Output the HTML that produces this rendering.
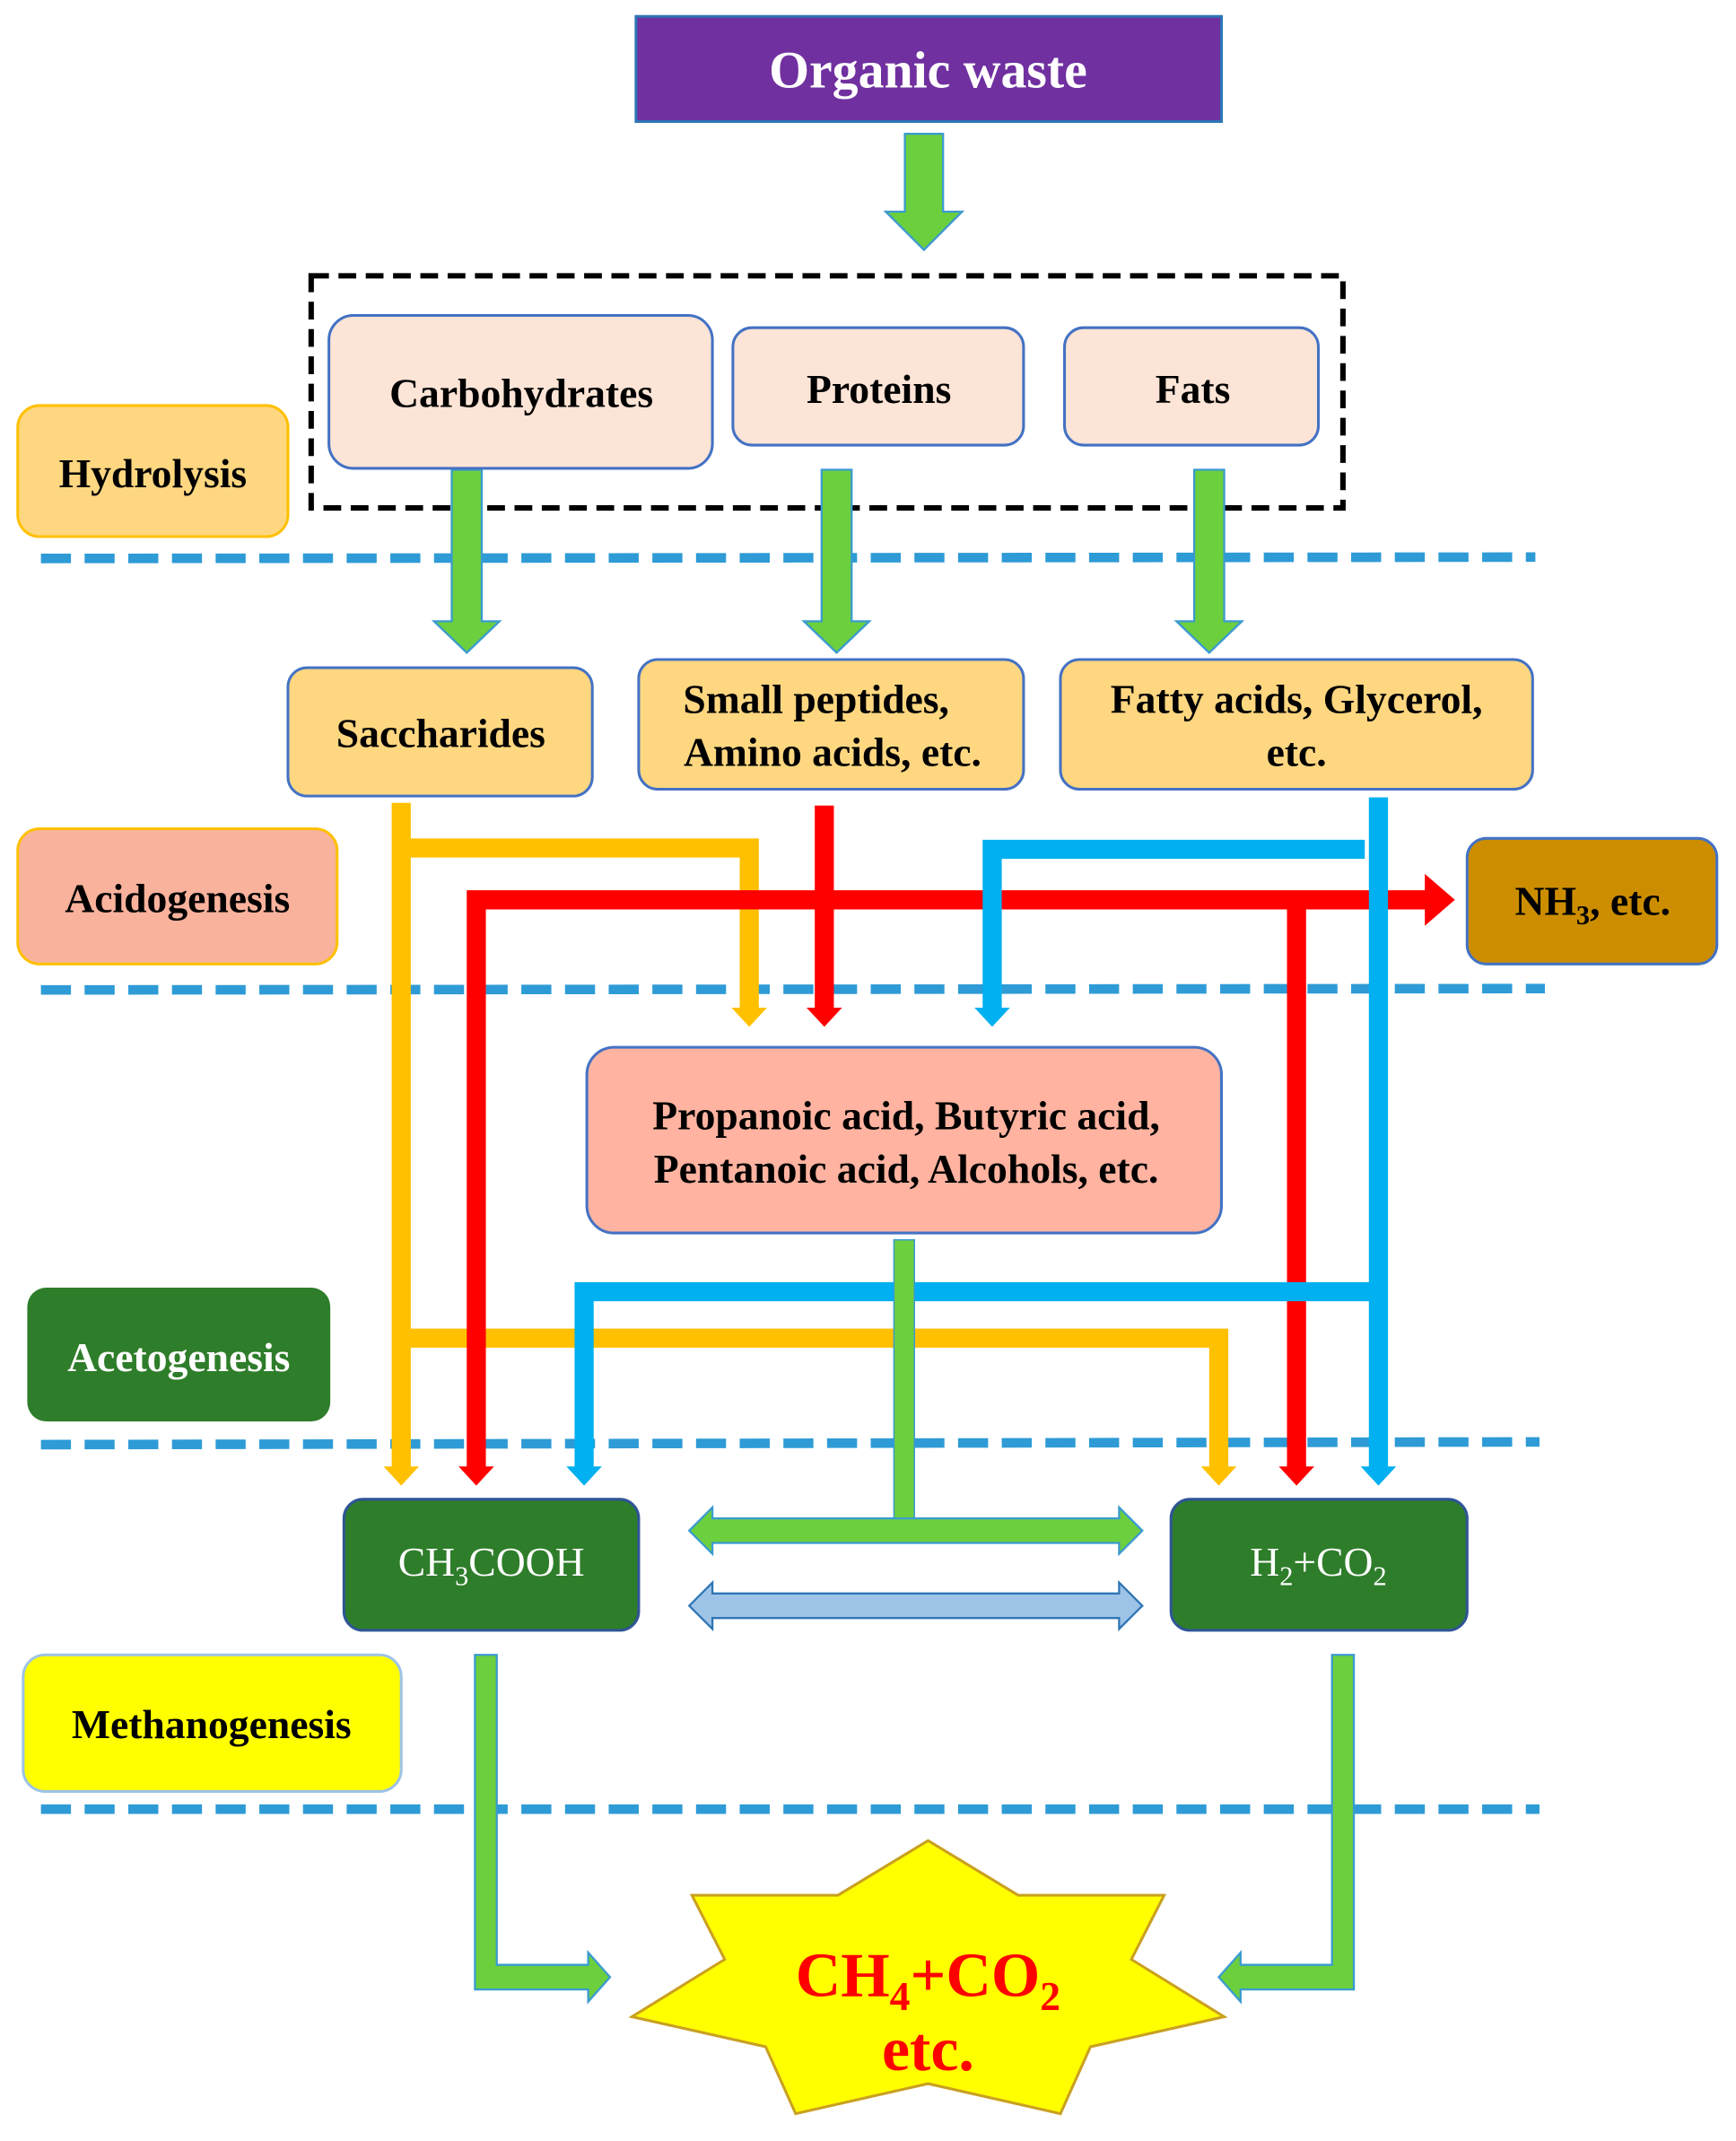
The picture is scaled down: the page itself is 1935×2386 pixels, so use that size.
<!DOCTYPE html>
<html><head><meta charset="utf-8"><style>
html,body{margin:0;padding:0;background:#fff;}
svg{display:block;}
text{font-family:"Liberation Serif",serif;}
</style></head><body>
<svg width="1935" height="2386" viewBox="0 0 1272 1568" preserveAspectRatio="none" xmlns="http://www.w3.org/2000/svg">
<rect width="1272" height="1568" fill="#fff"/>
<g stroke="#2E9BD6" stroke-width="7" stroke-dasharray="22,10">
<line x1="30" y1="409" x2="1125" y2="408"/>
<line x1="30" y1="725" x2="1132" y2="724"/>
<line x1="30" y1="1058" x2="1128" y2="1056"/>
<line x1="30" y1="1325" x2="1128" y2="1325"/>
</g>
<rect x="466" y="12" width="429" height="77" fill="#7030A0" stroke="#2E75B6" stroke-width="2"/>
<text x="680" y="64" text-anchor="middle" font-size="38" font-weight="bold" fill="#fff">Organic waste</text>
<path d="M663,98 H691 V155 H705 L677,183 L649,155 H663Z" fill="#6CCF3D" stroke="#3A9BD0" stroke-width="1.5"/>
<rect x="228" y="202" width="756" height="170" fill="none" stroke="#000" stroke-width="4" stroke-dasharray="13,7"/>
<g fill="#6CCF3D" stroke="#3A9BD0" stroke-width="1.5">
<path d="M331,344 H353 V455 H366 L342,478 L318,455 H331Z"/>
<path d="M602,344 H624 V455 H637 L613,478 L589,455 H602Z"/>
<path d="M875,344 H897 V455 H910 L886,478 L862,455 H875Z"/>
</g>
<g stroke="#4472C4" stroke-width="2">
<rect x="241" y="231" width="281" height="112" rx="18" fill="#FCE4D6"/>
<rect x="537" y="240" width="213" height="86" rx="14" fill="#FCE4D6"/>
<rect x="780" y="240" width="186" height="86" rx="14" fill="#FCE4D6"/>
</g>
<g font-size="30" font-weight="bold" fill="#000" text-anchor="middle">
<text x="382" y="298">Carbohydrates</text>
<text x="644" y="295">Proteins</text>
<text x="874" y="295">Fats</text>
</g>
<rect x="13" y="297" width="198" height="96" rx="16" fill="#FFD780" stroke="#FFC000" stroke-width="2"/>
<text x="112" y="357" text-anchor="middle" font-size="30" font-weight="bold">Hydrolysis</text>
<g stroke="#4472C4" stroke-width="2" fill="#FFD780">
<rect x="211" y="489" width="223" height="94" rx="14"/>
<rect x="468" y="483" width="282" height="95" rx="14"/>
<rect x="777" y="483" width="346" height="95" rx="14"/>
</g>
<g font-size="30" font-weight="bold" text-anchor="middle">
<text x="323" y="547">Saccharides</text>
<text x="598" y="522">Small peptides,</text>
<text x="610" y="561">Amino acids, etc.</text>
<text x="950" y="522">Fatty acids, Glycerol,</text>
<text x="950" y="561">etc.</text>
</g>
<rect x="13" y="607" width="234" height="99" rx="16" fill="#F9B29C" stroke="#FFC000" stroke-width="2"/>
<text x="130" y="668" text-anchor="middle" font-size="30" font-weight="bold">Acidogenesis</text>
<rect x="1075" y="614" width="183" height="92" rx="14" fill="#CC8E00" stroke="#4472C4" stroke-width="2"/>
<text x="1167" y="670" text-anchor="middle" font-size="30" font-weight="bold">NH<tspan font-size="20" dy="7">3</tspan><tspan dy="-7">, etc.</tspan></text>
<g fill="none" stroke-width="14">
<path d="M294,588 V1076 M294,621 H549 V740 M294,980 H893 V1076" stroke="#FFC000"/>
<path d="M604,590 V740 M349,1076 V659 H1045 M950,659 V1076" stroke="#FF0000"/>
<path d="M1010,584 V1076 M1000,622 H727 V740 M1010,946 H428 V1076" stroke="#00B0F0"/>
</g>
<g>
<path d="M536,738 H562 L549,752Z M281,1074 H307 L294,1088Z M880,1074 H906 L893,1088Z" fill="#FFC000"/>
<path d="M591,738 H617 L604,752Z M336,1074 H362 L349,1088Z M937,1074 H963 L950,1088Z M1044,640 L1066,659 L1044,678Z" fill="#FF0000"/>
<path d="M714,738 H740 L727,752Z M415,1074 H441 L428,1088Z M997,1074 H1023 L1010,1088Z" fill="#00B0F0"/>
</g>
<rect x="430" y="767" width="465" height="136" rx="20" fill="#FFB3A0" stroke="#4472C4" stroke-width="2"/>
<g font-size="30" font-weight="bold" text-anchor="middle">
<text x="664" y="827">Propanoic acid, Butyric acid,</text>
<text x="664" y="866">Pentanoic acid, Alcohols, etc.</text>
</g>
<rect x="655" y="908" width="15" height="204" fill="#6CCF3D" stroke="#3A9BD0" stroke-width="1"/>
<path d="M505,1121 L522,1104 V1112 H820 V1104 L837,1121 L820,1138 V1130 H522 V1138Z" fill="#6CCF3D" stroke="#3A9BD0" stroke-width="1.5"/>
<path d="M505,1176 L522,1159 V1167 H820 V1159 L837,1176 L820,1193 V1185 H522 V1193Z" fill="#9DC3E6" stroke="#2E75B6" stroke-width="1.5"/>
<rect x="20" y="943" width="222" height="98" rx="14" fill="#2E7D2A"/>
<text x="131" y="1004" text-anchor="middle" font-size="30" font-weight="bold" fill="#fff">Acetogenesis</text>
<rect x="252" y="1098" width="216" height="96" rx="14" fill="#2E7D2A" stroke="#2F5597" stroke-width="2"/>
<text x="360" y="1154" text-anchor="middle" font-size="30" fill="#fff">CH<tspan font-size="20" dy="7">3</tspan><tspan dy="-7">COOH</tspan></text>
<rect x="858" y="1098" width="217" height="96" rx="14" fill="#2E7D2A" stroke="#2F5597" stroke-width="2"/>
<text x="966" y="1154" text-anchor="middle" font-size="30" fill="#fff">H<tspan font-size="20" dy="7">2</tspan><tspan dy="-7">+CO</tspan><tspan font-size="20" dy="7">2</tspan></text>
<rect x="17" y="1212" width="277" height="100" rx="16" fill="#FFFF00" stroke="#9DC3E6" stroke-width="2"/>
<text x="155" y="1273" text-anchor="middle" font-size="30" font-weight="bold">Methanogenesis</text>
<path d="M348,1212 H364 V1439 H431 V1430 L447,1448 L431,1466 V1457 H348Z" fill="#6CCF3D" stroke="#3A9BD0" stroke-width="1.5"/>
<path d="M992,1212 H976 V1439 H909 V1430 L893,1448 L909,1466 V1457 H992Z" fill="#6CCF3D" stroke="#3A9BD0" stroke-width="1.5"/>
<polygon points="680,1348 746,1388 853,1388 829,1435 897,1477 799,1499 777,1548 680,1526 583,1548 561,1499 463,1477 531,1435 507,1388 614,1388" fill="#FFFF00" stroke="#C9A020" stroke-width="2"/>
<text x="680" y="1462" text-anchor="middle" font-size="46" font-weight="bold" fill="#FF0000">CH<tspan font-size="30" dy="10">4</tspan><tspan dy="-10">+CO</tspan><tspan font-size="30" dy="10">2</tspan></text>
<text x="680" y="1516" text-anchor="middle" font-size="46" font-weight="bold" fill="#FF0000">etc.</text>
</svg>
</body></html>
